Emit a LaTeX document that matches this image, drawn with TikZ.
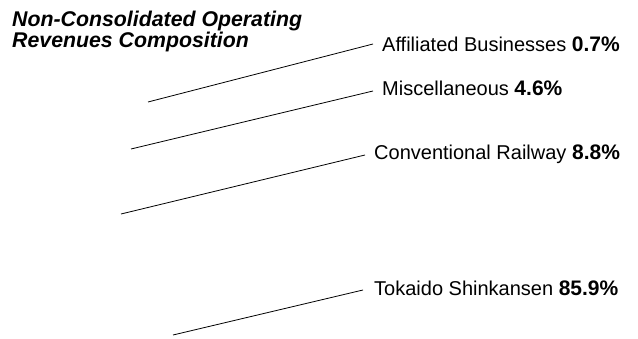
\documentclass[tikz,border=0pt]{standalone}
\usepackage{fontspec}
\setmainfont{Liberation Sans}
\begin{document}
\begin{tikzpicture}[x=1pt,y=-1pt,
  leader/.style={draw=black,line width=0.8pt},
  lbl/.style={anchor=base west,inner sep=0pt,font=\fontsize{20}{22}\selectfont},
  pct/.style={font=\fontsize{21}{22}\selectfont\bfseries},
  ttl/.style={anchor=base west,inner sep=0pt,align=left,font=\fontsize{21.3}{19.5}\selectfont\bfseries\itshape}]
\useasboundingbox (0,0) rectangle (638,339);
\node[ttl] (title) at (12,47.5) {Non-Consolidated Operating\\Revenues Composition};
\node[lbl] (aff) at (382,52) {Affiliated Businesses {\fontsize{21}{22}\selectfont\bfseries 0.7\%}};
\node[lbl] (misc) at (382,96) {Miscellaneous {\fontsize{21}{22}\selectfont\bfseries 4.6\%}};
\node[lbl] (conv) at (374,160) {Conventional Railway {\fontsize{21}{22}\selectfont\bfseries 8.8\%}};
\node[lbl] (tok) at (374,296) {Tokaido Shinkansen {\fontsize{21}{22}\selectfont\bfseries 85.9\%}};
\coordinate (affE) at (373,44);
\coordinate (miscE) at (373,91);
\coordinate (convE) at (365,155);
\coordinate (tokE) at (363,290);
\coordinate (affS) at (148,102);
\coordinate (miscS) at (131,149);
\coordinate (convS) at (121,214);
\coordinate (tokS) at (173,335);
\draw[leader] (affS) -- (affE);
\draw[leader] (miscS) -- (miscE);
\draw[leader] (convS) -- (convE);
\draw[leader] (tokS) -- (tokE);
\end{tikzpicture}
\end{document}
